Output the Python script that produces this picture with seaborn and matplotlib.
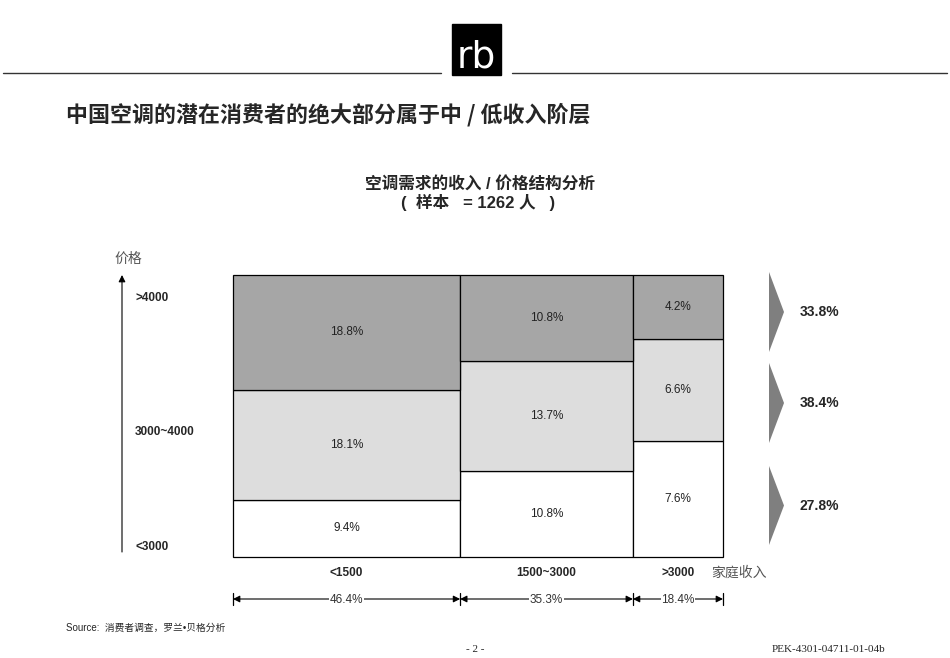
import numpy as np
import pandas as pd
import matplotlib
matplotlib.use("Agg")
import matplotlib.pyplot as plt
import matplotlib.transforms as mtransforms
from matplotlib.patches import Polygon, Rectangle
import seaborn as sns

# data
income_groups = ['<1500', '1500~3000', '>3000']
income_share = [46.4, 35.3, 18.4]
price_bands = ['<3000', '3000~4000', '>4000']   # bottom to top
low_price = [9.4, 10.8, 7.6]
mid_price = [18.1, 13.7, 6.6]
high_price = [18.8, 10.8, 4.2]

title = '中国空调的潜在消费者的绝大部分属于中 / 低收入阶层'
chart_title = '空调需求的收入 / 价格结构分析'
sample_note = '(  样本   = 1262 人   )'

sns.set_theme(style='white')
plt.rcParams['font.family'] = ['Liberation Sans', 'Noto Sans CJK SC', 'DejaVu Sans']

W, H = 950, 658
fig = plt.figure(figsize=(9.5, 6.58), dpi=100)

# build a long table for the marimekko
edges = np.concatenate([[0], np.cumsum(income_share)])
mids = (edges[:-1] + edges[1:]) / 2
values = {'<3000': low_price, '3000~4000': mid_price, '>4000': high_price}
col_tot = np.array(low_price) + np.array(mid_price) + np.array(high_price)
rows = []
for band in price_bands:
    for i, g in enumerate(income_groups):
        rows.append({'x': mids[i], 'band': band, 'value': values[band][i],
                     'weight': values[band][i] / col_tot[i] * 100})
df = pd.DataFrame(rows)

ax = fig.add_axes([233 / W, 1 - 557 / H, 490 / W, 282 / H])
sns.histplot(data=df, x='x', weights='weight', hue='band', hue_order=price_bands[::-1],
             bins=edges.tolist(), multiple='stack', stat='count', legend=False,
             palette={'<3000': 'white', '3000~4000': '#DDDDDD', '>4000': '#A6A6A6'},
             edgecolor='black', linewidth=0.9, alpha=1, ax=ax)
ax.set_xlim(edges[0], edges[-1])
ax.set_ylim(0, 100)
ax.set_axis_off()
for p in ax.patches:
    p.set_clip_on(False)

# labels in cells
for i in range(len(income_groups)):
    base = 0
    for band in price_bands:
        h = values[band][i] / col_tot[i] * 100
        ax.text(mids[i], base + h / 2, f'{values[band][i]}%', ha='center', va='center',
                fontsize=8.5, color='#222222')
        base += h

# overlay in pixel coords
ov = fig.add_axes([0, 0, 1, 1])
ov.set_xlim(0, W)
ov.set_ylim(H, 0)
ov.set_axis_off()
ov.patch.set_alpha(0)
bt = mtransforms.blended_transform_factory(ax.transData, ov.transData)

# header
ov.plot([3, 441], [73, 73], color='#333333', lw=1)
ov.plot([512, 947], [73, 73], color='#333333', lw=1)
ov.add_patch(Rectangle((452, 24), 49, 51, color='black'))
ov.text(476.5, 76, 'rb', color='white', fontsize=27, ha='center', va='bottom',
        family='DejaVu Sans')

ov.text(66, 115, title, fontsize=15.8, fontweight='bold', va='center', ha='left',
        family=['Noto Sans CJK SC', 'Liberation Sans'])
ov.text(480, 185, chart_title, fontsize=12, fontweight='bold', ha='center', va='center',
        family=['Liberation Sans', 'Noto Sans CJK SC'])
ov.text(478, 202, sample_note, fontsize=12, fontweight='bold', ha='center', va='center',
        family=['Liberation Sans', 'Noto Sans CJK SC'])

# price axis
ov.annotate('', xy=(122, 275), xytext=(122, 552),
            arrowprops=dict(arrowstyle='-|>', color='black', lw=0.8, mutation_scale=10,
                            shrinkA=0, shrinkB=0))
ov.text(128, 259, '价格', fontsize=10, color='#555555', ha='center', va='center',
        family=['Noto Sans CJK SC'])
for lab, y in zip(price_bands, [547, 432, 298]):
    ov.text(135, y, lab, fontsize=8.5, fontweight='bold', ha='left', va='center')

# income axis
for i, g in enumerate(income_groups):
    ov.text(mids[i], 573, g, transform=bt, fontsize=8.5, fontweight='bold',
            ha='center', va='center')
ov.text(739, 573, '家庭收入', fontsize=10, color='#555555', ha='center', va='center',
        family=['Noto Sans CJK SC'])

# income share dimension arrows
for i in range(len(income_groups)):
    ov.annotate('', xy=(edges[i + 1], 599), xytext=(edges[i], 599), xycoords=bt, textcoords=bt,
                arrowprops=dict(arrowstyle='<|-|>', color='black', lw=0.8, mutation_scale=10,
                                shrinkA=0, shrinkB=0))
    ov.text(mids[i], 600, f'{income_share[i]}%', transform=bt, fontsize=8.5, color='#333333',
            ha='center', va='center', bbox=dict(facecolor='white', edgecolor='none', pad=0.5))
for e in edges:
    ov.plot([e, e], [593, 605], transform=bt, color='black', lw=0.9)

# row totals with chevrons
row_tot = [round(sum(values[b]), 1) for b in price_bands]
for tot, (top, bot) in zip(row_tot, [(466, 545), (363, 443), (272, 352)]):
    mid = (top + bot) / 2
    ov.add_patch(Polygon([(769, top), (784, mid), (769, bot)], closed=True,
                         color='#7F7F7F', lw=0))
    ov.text(800, mid, f'{tot}%', fontsize=10, fontweight='bold', ha='left', va='center')

# footer
ov.text(66, 628, 'Source:  消费者调查，罗兰•贝格分析', fontsize=7, ha='left', va='center',
        family=['Liberation Sans', 'Noto Sans CJK SC'])
ov.text(475, 650, '- 2 -', fontsize=8, ha='center', va='center', family='Liberation Serif')
ov.text(885, 650, 'PEK-4301-04711-01-04b', fontsize=8, ha='right', va='center',
        family='Liberation Serif')

fig.savefig('out.png', dpi=100)
